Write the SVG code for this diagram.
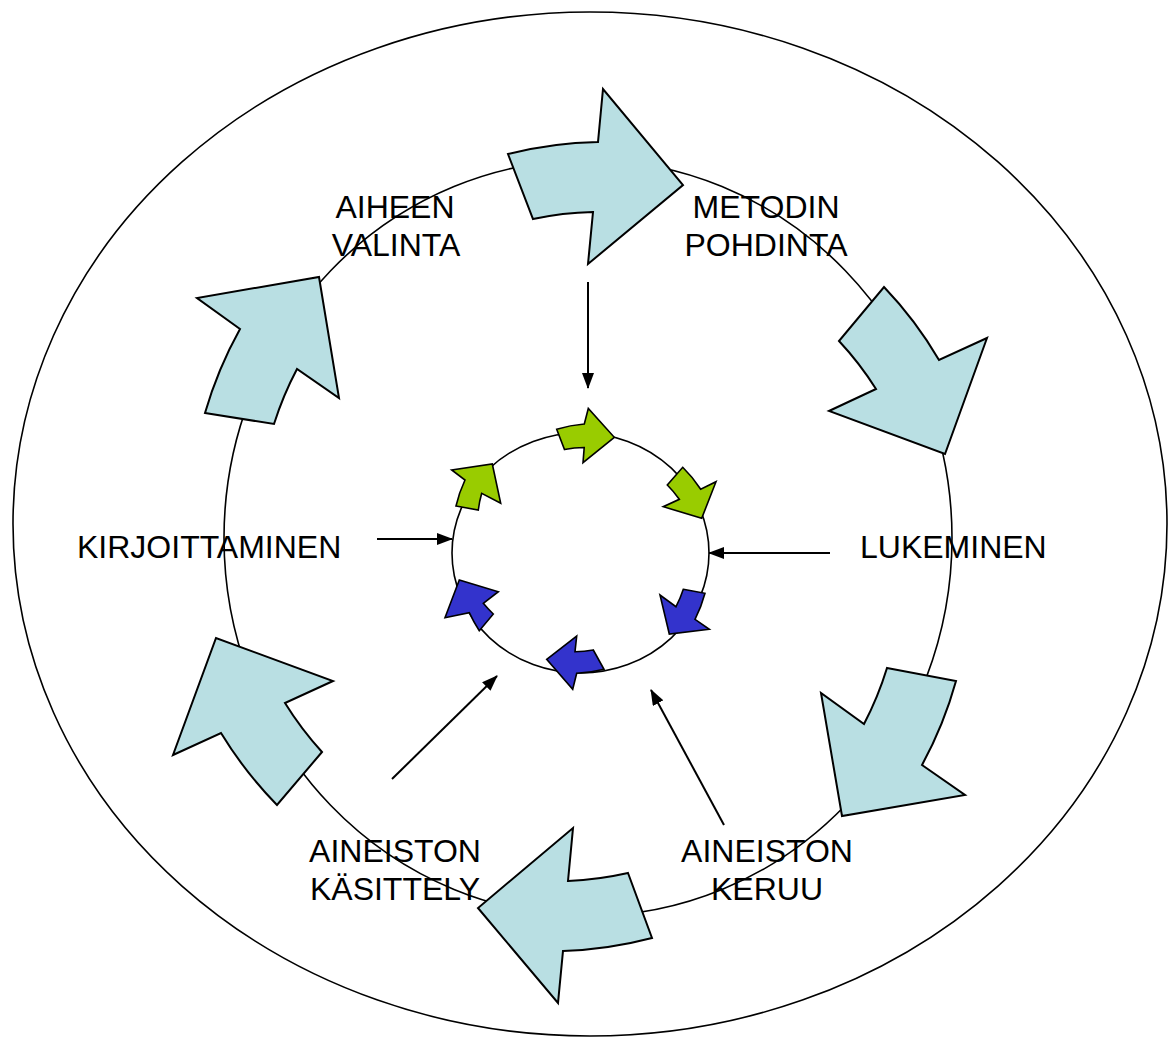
<svg xmlns="http://www.w3.org/2000/svg" width="1168" height="1037" viewBox="0 0 1168 1037">
<defs>
<marker id="ah" markerUnits="userSpaceOnUse" markerWidth="16" markerHeight="12" refX="15" refY="6" orient="auto">
<path d="M0,0 L16,6 L0,12 Z" fill="#000"/>
</marker>
<style>
.ring{fill:none;stroke:#000;stroke-width:1.6}
.big{fill:#B9DFE3;stroke:#000;stroke-width:2;stroke-linejoin:miter}
.gr{fill:#99CC00;stroke:#000;stroke-width:1.6}
.bl{fill:#3333CC;stroke:#000;stroke-width:1.6}
.con{stroke:#000;stroke-width:2;fill:none;marker-end:url(#ah)}
text{font-family:"Liberation Sans",Arial,sans-serif;font-size:32px;fill:#000}
.m{text-anchor:middle}
</style>
</defs>
<rect width="1168" height="1037" fill="#fff"/>
<g id="rings">
<ellipse class="ring" cx="590" cy="524" rx="577" ry="512"/>
<ellipse class="ring" cx="588" cy="538" rx="364" ry="378"/>
<ellipse class="ring" cx="580.5" cy="553" rx="128.5" ry="120"/>
</g>
<g id="big-arrows">
<path id="arrow-top" class="big" d="M508,154 A395,395 0 0 1 598,142 L603,89 L683,185 L588,264 L593,212 A327,327 0 0 0 533,219 Z"/>
<path id="arrow-ru" class="big" d="M884,287 A393,393 0 0 1 939,360 L987,338 L945,454 L829,411 L876,389 A322,322 0 0 0 839,341 Z"/>
<path id="arrow-rl" class="big" d="M887,668 L956,681 A398,398 0 0 1 922,765 L965,795 L842,816 L821,693 L864,724 A330,330 0 0 0 887,668 Z"/>
<path id="arrow-b" class="big" d="M628,873 L652,938 A400,400 0 0 1 563,951 L558,1003 L478,908 L573,828 L568,881 A335,335 0 0 0 628,873 Z"/>
<path id="arrow-ll" class="big" d="M322,752 L277,805 A405,405 0 0 1 221,733 L173,755 L216,638 L333,681 L285,703 A338,338 0 0 0 322,752 Z"/>
<path id="arrow-lu" class="big" d="M205,413 L274,424 A335,335 0 0 1 297,369 L339,398 L319,277 L197,298 L240,329 A405,405 0 0 0 205,413 Z"/>
</g>
<g id="small-arrows">
<path class="gr" d="M556.7,429.3 A127,127 0 0 1 584.3,424 L588.3,408.5 L614.3,437.3 L583,462.7 L584.2,447.5 A105,105 0 0 0 564.5,449.5 Z"/>
<path class="gr" d="M682.7,467.3 A127,127 0 0 1 700.7,489.3 L716,481.7 L701.7,518.3 L663.3,506.7 L679.3,499.3 A105,105 0 0 0 667.3,485 Z"/>
<path class="bl" d="M683.3,589.3 L705,593.3 A130,130 0 0 1 695,619.3 L709.3,629.3 L669.3,634 L660,595 L676,606.7 A108,108 0 0 0 683.3,589.3 Z"/>
<path class="bl" d="M593.3,650 L604,669.3 A130,130 0 0 1 576.7,673.3 L572.7,689.3 L546.7,659.3 L576.7,636 L575,651.7 A108,108 0 0 0 593.3,650 Z"/>
<path class="bl" d="M493.3,614 L479.3,630.7 A130,130 0 0 1 469.3,612.7 L445,617.7 L459.3,580 L498.3,591.7 L483.3,603.3 A108,108 0 0 0 493.3,614 Z"/>
<path class="gr" d="M456,506 L478.3,510 A108,108 0 0 1 481.7,493.3 L500.7,503.3 L492.3,464 L451.7,470 L465,480 A130,130 0 0 0 456,506 Z"/>
</g>
<g id="connectors">
<line class="con" x1="588" y1="282" x2="588" y2="388"/>
<line class="con" x1="377" y1="539" x2="452" y2="539"/>
<line class="con" x1="830" y1="553" x2="709" y2="553"/>
<line class="con" x1="392" y1="779" x2="497" y2="676"/>
<line class="con" x1="724" y1="825" x2="651" y2="690"/>
</g>
<g id="aiheen-valinta"><text class="m" x="395" y="218">AIHEEN</text><text class="m" x="396" y="256">VALINTA</text></g>
<g id="metodin-pohdinta"><text class="m" x="766" y="218">METODIN</text><text class="m" x="766" y="256">POHDINTA</text></g>
<g id="kirjoittaminen"><text x="77" y="558">KIRJOITTAMINEN</text></g>
<g id="lukeminen"><text x="860" y="558">LUKEMINEN</text></g>
<g id="aineiston-kasittely"><text class="m" x="395" y="862">AINEISTON</text><text class="m" x="395" y="900">KÄSITTELY</text></g>
<g id="aineiston-keruu"><text class="m" x="767" y="862">AINEISTON</text><text class="m" x="767" y="900">KERUU</text></g>
</svg>
